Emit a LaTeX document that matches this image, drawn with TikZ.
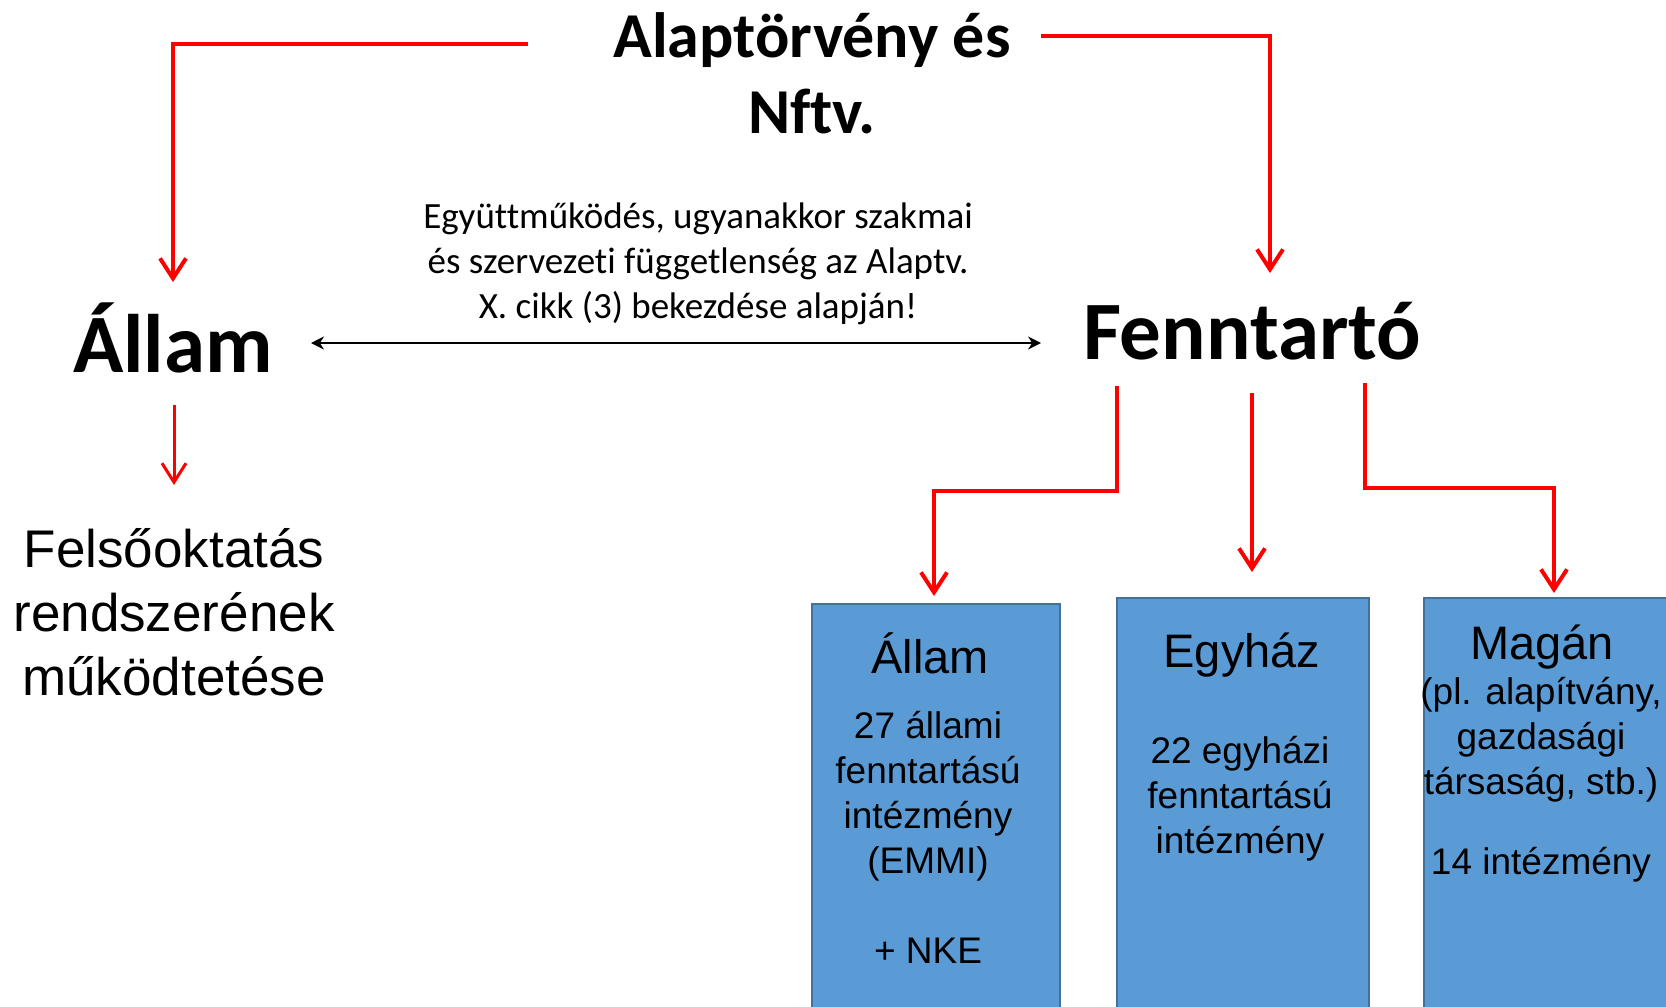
\documentclass[tikz,border=0pt]{standalone}
\usepackage{fontspec}
\setmainfont{Carlito}[Ligatures={NoCommon}]
\newfontfamily\arialf{Liberation Sans}
\usetikzlibrary{arrows.meta}
\definecolor{boxfill}{HTML}{5B9BD5}
\definecolor{boxline}{HTML}{41719C}
\definecolor{pred}{HTML}{FF0000}
\tikzset{
  redarr/.style={draw=pred, line width=4.5pt, -{Straight Barb[length=20pt,width=26pt,line width=4pt]}},
  redarrthin/.style={draw=pred, line width=3pt, -{Straight Barb[length=19pt,width=24pt,line width=3pt]}},
  blackarr/.style={draw=black, line width=2pt, {Stealth[length=13pt,width=13pt]}-{Stealth[length=13pt,width=13pt]}},
  instbox/.style={draw=boxline, fill=boxfill, line width=2pt, anchor=north west, inner sep=0pt},
  bighead/.style={font=\fontsize{83}{100}\selectfont\bfseries, anchor=base, inner sep=0pt},
  tophead/.style={font=\fontsize{64}{76}\selectfont\bfseries, anchor=base, align=center, inner sep=0pt},
  lbl/.style={font=\fontsize{37}{45}\selectfont, anchor=base, align=center, inner sep=0pt},
  felso/.style={font=\arialf\fontsize{53}{64}\selectfont, anchor=base, align=center, inner sep=0pt},
  boxhead/.style={font=\arialf\fontsize{47}{56}\selectfont, anchor=base, inner sep=0pt},
  boxtxt/.style={font=\arialf\fontsize{37}{45}\selectfont, anchor=base, align=center, inner sep=0pt}
}
\begin{document}
\begin{tikzpicture}[x=1pt,y=-1pt]
\useasboundingbox (0,0) rectangle (1666,1007);
% boxes
\node[instbox, minimum width=248pt, minimum height=412pt] (box1) at (811,603) {};
\node[instbox, minimum width=252pt, minimum height=418pt] (box2) at (1116,597) {};
\node[instbox, minimum width=252pt, minimum height=418pt] (box3) at (1423,597) {};
% texts (multi-line nodes: base = last line)
\node[tophead] (top) at (812,133) {Alaptörvény és\\Nftv.};
\node[bighead] (allam) at (173,372) {Állam};
\node[bighead] (fenn) at (1252,359) {Fenntartó};
\node[lbl] (coop) at (698,318) {Együttműködés, ugyanakkor szakmai\\és szervezeti függetlenség az Alaptv.\\X. cikk (3) bekezdése alapján!};
\node[felso] (felso) at (174,695) {Felsőoktatás\\rendszerének\\működtetése};
\node[boxhead] (b1h) at (930,673) {Állam};
\node[boxtxt] (b1t) at (928,963) {27 állami\\fenntartású\\intézmény\\(EMMI)\\[45pt]+ NKE};
\node[boxhead] (b2h) at (1242,667) {Egyház};
\node[boxtxt] (b2t) at (1240,853) {22 egyházi\\fenntartású\\intézmény};
\node[boxhead] (b3h) at (1542,659) {Magán};
\node[boxtxt] (b3t) at (1541,874) {(pl. alapítvány,\\gazdasági\\társaság, stb.)\\[35pt]14 intézmény};
% connector points
\coordinate (tl) at (528,44);
\coordinate (tlc) at (173,44);
\coordinate (ta) at (173,282);
\coordinate (tr) at (1041,36);
\coordinate (trc) at (1270,36);
\coordinate (tf) at (1270,273);
\coordinate (as) at (174,405);
\coordinate (ae) at (174,485);
\coordinate (d1) at (311,343);
\coordinate (d2) at (1041,343);
\coordinate (f1s) at (1117,386);
\coordinate (f1a) at (1117,491);
\coordinate (f1b) at (934,491);
\coordinate (f1e) at (934,596);
\coordinate (f2s) at (1252,393);
\coordinate (f2e) at (1252,572);
\coordinate (f3s) at (1365,383);
\coordinate (f3a) at (1365,488);
\coordinate (f3b) at (1554,488);
\coordinate (f3e) at (1554,593);
% connectors
\draw[redarr, line width=4pt] (tl) -- (tlc) -- (ta);
\draw[redarr, line width=4pt] (tr) -- (trc) -- (tf);
\draw[redarrthin] (as) -- (ae);
\draw[blackarr] (d1) -- (d2);
\draw[redarr] (f1s) -- (f1a) -- (f1b) -- (f1e);
\draw[redarr] (f2s) -- (f2e);
\draw[redarr] (f3s) -- (f3a) -- (f3b) -- (f3e);
\end{tikzpicture}
\end{document}
